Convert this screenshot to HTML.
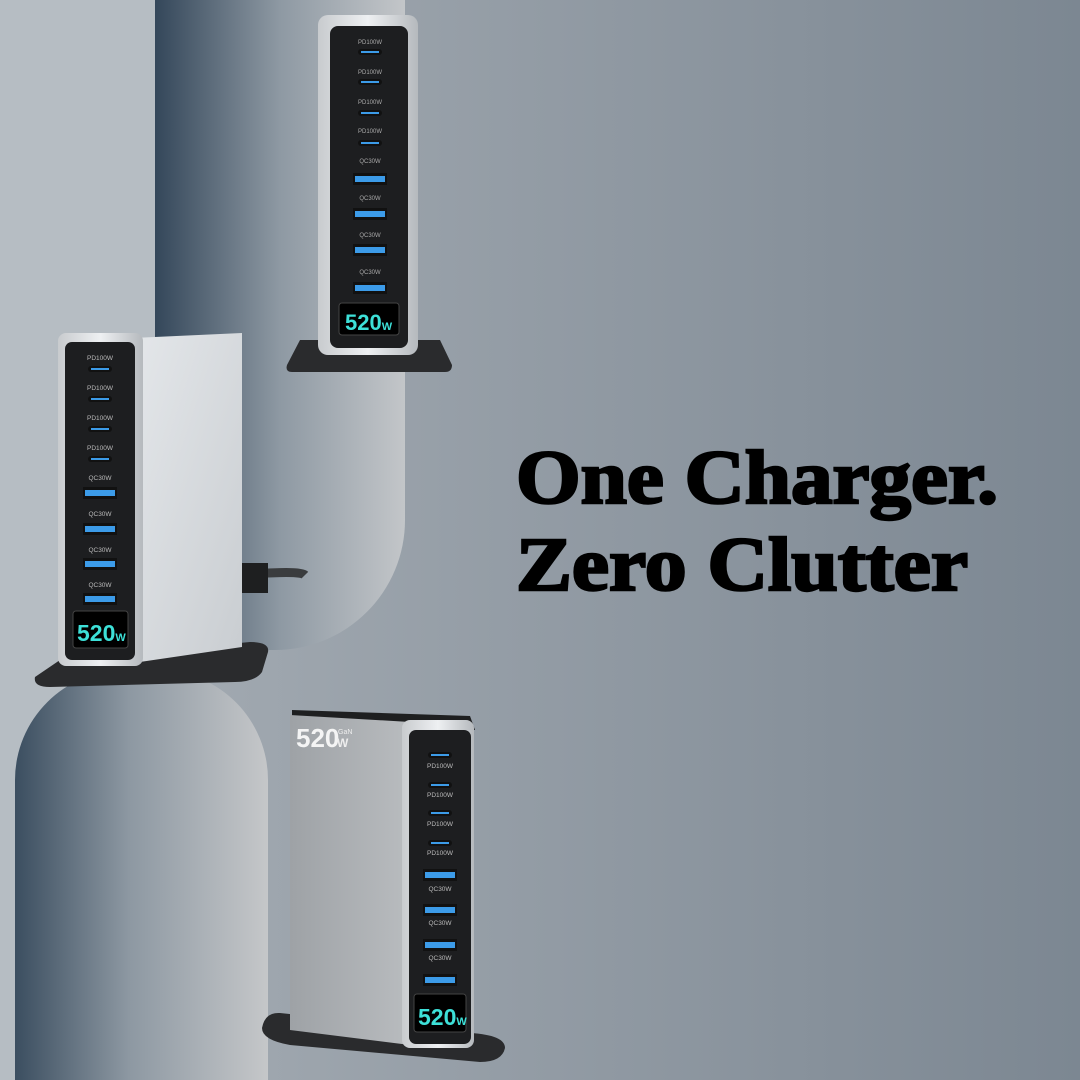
<!DOCTYPE html>
<html><head><meta charset="utf-8"><style>
body{margin:0;width:1080px;height:1080px;overflow:hidden}
svg{display:block}
</style></head><body>
<svg width="1080" height="1080" viewBox="0 0 1080 1080" xmlns="http://www.w3.org/2000/svg">
<defs>
<linearGradient id="bg" x1="0" x2="1" y1="0" y2="0"><stop offset="0" stop-color="#a9b0b7"/><stop offset="1" stop-color="#7c8792"/></linearGradient>
<linearGradient id="pil" x1="0" x2="1" y1="0" y2="0"><stop offset="0" stop-color="#34475a"/><stop offset="0.5" stop-color="#8e99a3"/><stop offset="1" stop-color="#c3c6c9"/></linearGradient>
<linearGradient id="pil2" x1="0" x2="1" y1="0" y2="0"><stop offset="0" stop-color="#3b4e60"/><stop offset="0.45" stop-color="#8d98a2"/><stop offset="1" stop-color="#c5c7c9"/></linearGradient>
<linearGradient id="silv" x1="0" x2="1" y1="0" y2="0"><stop offset="0" stop-color="#c8cbce"/><stop offset="0.5" stop-color="#eef0f2"/><stop offset="1" stop-color="#b5b9bd"/></linearGradient>
<linearGradient id="side" x1="0" x2="1" y1="0" y2="1"><stop offset="0" stop-color="#e4e7ea"/><stop offset="1" stop-color="#c9cdd1"/></linearGradient>
<linearGradient id="side2" x1="0" x2="1" y1="0" y2="0"><stop offset="0" stop-color="#9ea2a6"/><stop offset="1" stop-color="#b9bcbf"/></linearGradient>
<g id="pd"><rect x="-12" y="-3" width="24" height="6" rx="3" fill="#111"/><rect x="-9" y="-1" width="18" height="2" fill="#3c9be8"/></g>
<g id="qc"><rect x="-17" y="-6" width="34" height="12" fill="#111"/><rect x="-15" y="-3" width="30" height="6" fill="#3c9be8"/></g>
</defs>
<rect width="1080" height="1080" fill="url(#bg)"/>
<rect x="0" y="0" width="160" height="1080" fill="#b6bdc3"/>
<path d="M155 0 H405 V520 A130 130 0 0 1 275 650 H155 Z" fill="url(#pil)"/>
<path d="M15 1080 V780 A110 110 0 0 1 125 670 H160 A110 110 0 0 1 268 780 V1080 Z" fill="url(#pil2)"/>

<!-- top charger -->
<path d="M300 340 H440 L452 365 Q452 372 445 372 H292 Q285 372 287 365 Z" fill="#2a2b2d"/>
<rect x="318" y="15" width="100" height="340" rx="10" fill="url(#silv)"/>
<rect x="330" y="26" width="78" height="322" rx="8" fill="#1d1e20"/>
<g font-family="Liberation Sans,sans-serif" font-size="6" fill="#aaa" text-anchor="middle">
<text x="370" y="44">PD100W</text><use href="#pd" x="370" y="52"/>
<text x="370" y="74">PD100W</text><use href="#pd" x="370" y="82"/>
<text x="370" y="104">PD100W</text><use href="#pd" x="370" y="113"/>
<text x="370" y="133">PD100W</text><use href="#pd" x="370" y="143"/>
<text x="370" y="163">QC30W</text><use href="#qc" x="370" y="179"/>
<text x="370" y="200">QC30W</text><use href="#qc" x="370" y="214"/>
<text x="370" y="237">QC30W</text><use href="#qc" x="370" y="250"/>
<text x="370" y="274">QC30W</text><use href="#qc" x="370" y="288"/>
</g>
<rect x="339" y="303" width="60" height="32" rx="3" fill="#000" stroke="#444"/>
<text x="345" y="330" font-family="Liberation Sans,sans-serif" font-size="22" font-weight="bold" fill="#3de0d8">520<tspan font-size="11">W</tspan></text>

<!-- cable -->
<path d="M240 575 Q300 570 305 575" stroke="#3a3c3e" stroke-width="9" fill="none"/>
<rect x="240" y="563" width="28" height="30" fill="#1e1f20"/>

<!-- left charger -->
<path d="M60 660 L250 642 Q270 642 268 652 L262 672 Q255 682 235 682 L50 687 Q33 687 35 677 Z" fill="#2a2b2d"/>
<path d="M133 338 L242 333 V647 L133 663 Z" fill="url(#side)"/>
<rect x="58" y="333" width="85" height="333" rx="8" fill="url(#silv)"/>
<rect x="65" y="342" width="70" height="318" rx="7" fill="#1d1e20"/>
<g font-family="Liberation Sans,sans-serif" font-size="6.5" fill="#bbb" text-anchor="middle">
<text x="100" y="360">PD100W</text><use href="#pd" x="100" y="369"/>
<text x="100" y="390">PD100W</text><use href="#pd" x="100" y="399"/>
<text x="100" y="420">PD100W</text><use href="#pd" x="100" y="429"/>
<text x="100" y="450">PD100W</text><use href="#pd" x="100" y="459"/>
<text x="100" y="480">QC30W</text><use href="#qc" x="100" y="493"/>
<text x="100" y="516">QC30W</text><use href="#qc" x="100" y="529"/>
<text x="100" y="552">QC30W</text><use href="#qc" x="100" y="564"/>
<text x="100" y="587">QC30W</text><use href="#qc" x="100" y="599"/>
</g>
<rect x="73" y="611" width="55" height="37" rx="3" fill="#000" stroke="#444"/>
<text x="77" y="641" font-family="Liberation Sans,sans-serif" font-size="23" font-weight="bold" fill="#3de0d8">520<tspan font-size="11">W</tspan></text>

<!-- bottom charger -->
<path d="M280 1013 L470 1033 Q505 1035 505 1048 Q502 1062 480 1062 L290 1045 Q262 1040 262 1028 Q265 1012 280 1013 Z" fill="#2a2b2d"/>
<path d="M292 710 L470 716 L475 730 L292 722 Z" fill="#1e1f20"/>
<path d="M290 715 L410 722 V1045 L290 1030 Z" fill="url(#side2)"/>
<rect x="402" y="720" width="72" height="328" rx="8" fill="url(#silv)"/>
<rect x="409" y="730" width="62" height="314" rx="7" fill="#1d1e20"/>
<text x="296" y="747" font-family="Liberation Sans,sans-serif" font-size="26" font-weight="bold" fill="#f4f4f4">520</text>
<text x="338" y="734" font-family="Liberation Sans,sans-serif" font-size="7" fill="#eee">GaN</text>
<text x="337" y="747" font-family="Liberation Sans,sans-serif" font-size="12" font-weight="bold" fill="#eee">W</text>
<g font-family="Liberation Sans,sans-serif" font-size="6.5" fill="#bbb" text-anchor="middle">
<use href="#pd" x="440" y="755"/><text x="440" y="768">PD100W</text>
<use href="#pd" x="440" y="785"/><text x="440" y="797">PD100W</text>
<use href="#pd" x="440" y="813"/><text x="440" y="826">PD100W</text>
<use href="#pd" x="440" y="843"/><text x="440" y="855">PD100W</text>
<use href="#qc" x="440" y="875"/><text x="440" y="891">QC30W</text>
<use href="#qc" x="440" y="910"/><text x="440" y="925">QC30W</text>
<use href="#qc" x="440" y="945"/><text x="440" y="960">QC30W</text>
<use href="#qc" x="440" y="980"/>
</g>
<rect x="414" y="994" width="52" height="38" rx="3" fill="#000" stroke="#444"/>
<text x="418" y="1025" font-family="Liberation Sans,sans-serif" font-size="23" font-weight="bold" fill="#3de0d8">520<tspan font-size="11">W</tspan></text>

<g font-family="Liberation Serif,serif" font-weight="bold" fill="#000" stroke="#000" stroke-width="2.5" font-size="76">
<text x="516" y="503" textLength="482" lengthAdjust="spacingAndGlyphs">One Charger.</text>
<text x="516" y="590" textLength="452" lengthAdjust="spacingAndGlyphs">Zero Clutter</text>
</g>
</svg>
</body></html>
